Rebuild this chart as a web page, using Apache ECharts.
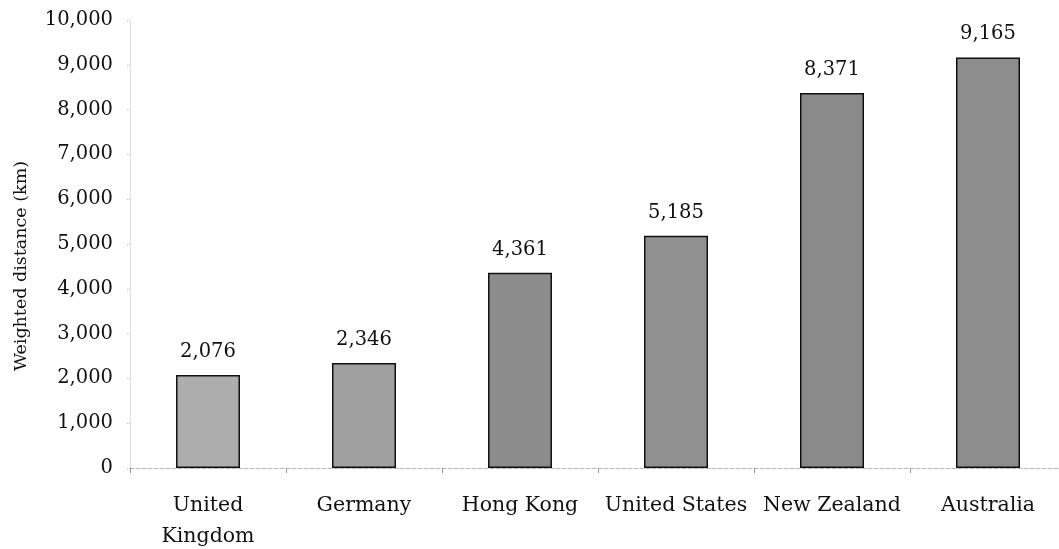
<!DOCTYPE html>
<html><head><meta charset="utf-8">
<script src="https://cdn.jsdelivr.net/npm/echarts@6/dist/echarts.min.js"></script>
<style>html,body{margin:0;padding:0;background:#fff}#c{width:1059px;height:549px}</style>
</head><body><div id="c"></div>
<script>
const categories = ['United\nKingdom', 'Germany', 'Hong Kong', 'United States', 'New Zealand', 'Australia'];
const distances = [2076, 2346, 4361, 5185, 8371, 9165];
const barColors = ['#adadad', '#a0a0a0', '#8c8c8c', '#909090', '#8a8a8a', '#8d8d8d'];
const yAxisName = 'Weighted distance (km)';

const font = 'DejaVu Serif';
const chart = echarts.init(document.getElementById('c'), null, {renderer: 'canvas'});
chart.setOption({
  animation: false,
  grid: {left: 130, top: 20, width: 936, height: 448, containLabel: false, outerBoundsMode: 'none'},
  xAxis: {
    type: 'category',
    data: categories,
    axisLine: {lineStyle: {color: '#b5b5b5', type: 'dashed', width: 1}},
    axisTick: {show: true, length: 5, lineStyle: {color: '#999'}},
    axisLabel: {color: '#111', fontFamily: font, fontSize: 20.5, margin: 22, lineHeight: 31, interval: 0}
  },
  yAxis: {
    type: 'value',
    min: 0, max: 10000, interval: 1000,
    name: yAxisName,
    nameLocation: 'middle',
    nameGap: 100,
    nameTextStyle: {color: '#111', fontFamily: font, fontSize: 17.5, padding: [0, 44, 0, 0]},
    splitLine: {show: false},
    axisLine: {show: true, lineStyle: {color: '#d8d8d8', type: 'dotted', width: 1}},
    axisTick: {show: true, length: 3, lineStyle: {color: '#bbb', type: 'dotted'}},
    axisLabel: {color: '#111', fontFamily: font, fontSize: 19.5, margin: 17,
      formatter: v => v.toLocaleString('en-US')}
  },
  series: [{
    type: 'bar',
    data: distances.map((v, i) => ({value: v, itemStyle: {color: barColors[i]}})),
    barWidth: 64,
    itemStyle: {borderColor: '#111', borderWidth: 1.5},
    label: {show: true, position: 'top', distance: 13, color: '#111', fontFamily: font, fontSize: 19.5,
      formatter: p => p.value.toLocaleString('en-US')}
  }]
});
</script></body></html>
